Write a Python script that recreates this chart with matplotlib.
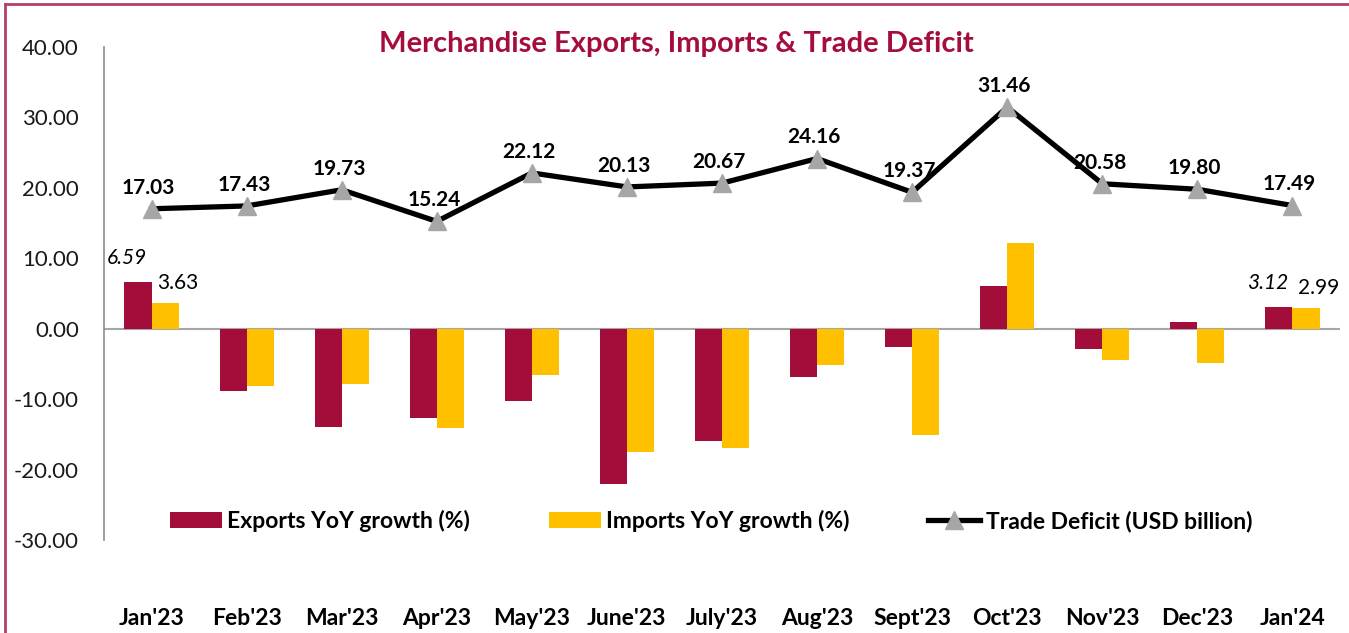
import matplotlib.pyplot as plt
from matplotlib.lines import Line2D
import numpy as np

plt.rcParams['font.family'] = ['Lato', 'DejaVu Sans']

# -----------------------------
# Data
# -----------------------------
months = ["Jan'23", "Feb'23", "Mar'23", "Apr'23", "May'23", "June'23", "July'23",
          "Aug'23", "Sept'23", "Oct'23", "Nov'23", "Dec'23", "Jan'24"]
exports_yoy = [6.59, -8.8, -13.9, -12.7, -10.3, -22.1, -15.9, -6.9, -2.6, 6.1, -2.9, 0.9, 3.12]
imports_yoy = [3.63, -8.2, -7.9, -14.1, -6.6, -17.5, -17.0, -5.2, -15.1, 12.2, -4.4, -4.9, 2.99]
trade_deficit = [17.03, 17.43, 19.73, 15.24, 22.12, 20.13, 20.67, 24.16, 19.37, 31.46, 20.58, 19.80, 17.49]

exp_color = "#A20D3A"
imp_color = "#FFC000"

# -----------------------------
# Figure
# -----------------------------
W, H = 1349, 633
fig = plt.figure(figsize=(W / 100, H / 100), dpi=100)
ax = fig.add_axes([104 / W, 1 - 540 / H, 1236 / W, 493 / H])

x = np.arange(len(months))
bw = 0.285
b1 = ax.bar(x - bw / 2, exports_yoy, bw, color=exp_color, label="Exports YoY growth (%)", zorder=2)
b2 = ax.bar(x + bw / 2, imports_yoy, bw, color=imp_color, label="Imports YoY growth (%)", zorder=2)
ln, = ax.plot(x, trade_deficit, color="black", lw=3.8, marker="^", markersize=13,
              markerfacecolor="#A6A6A6", markeredgecolor="#A6A6A6",
              label="Trade Deficit (USD billion)", zorder=3)

# line labels
for xi, v in zip(x, trade_deficit):
    ax.annotate(f"{v:.2f}", (xi, v), xytext=(-2, 8), textcoords="offset points",
                ha="center", va="bottom", fontsize=15, fontweight="bold")

# bar labels on first and last month
for i in (0, len(months) - 1):
    ax.annotate(f"{exports_yoy[i]:.2f}", (x[i] - bw / 2, exports_yoy[i]), xytext=(-8, 10),
                textcoords="offset points", ha="center", va="bottom", fontsize=15, style="italic")
    ax.annotate(f"{imports_yoy[i]:.2f}", (x[i] + bw / 2, imports_yoy[i]), xytext=(9, 7),
                textcoords="offset points", ha="center", va="bottom", fontsize=15)

ax.axhline(0, color="#A6A6A6", lw=1.5, zorder=1)
ax.set_xlim(-0.5, len(months) - 0.5)
ax.set_ylim(-30, 40)
ax.set_yticks(np.arange(-30, 41, 10))
ax.set_yticklabels([f"{t:.2f}" for t in np.arange(-30, 41, 10)], fontsize=16, color="#1a1a1a")
ax.set_xticks(x)
ax.set_xticklabels(months, fontsize=16.5, fontweight="bold")
ax.tick_params(axis="y", length=0, pad=18)
ax.tick_params(axis="x", length=0, pad=49)

for s in ("top", "right", "bottom"):
    ax.spines[s].set_visible(False)
ax.spines["left"].set_color("#8C8C8C")
ax.spines["left"].set_linewidth(1.2)

leg = ax.legend(handles=[b1, b2, ln], loc="center left", bbox_to_anchor=(0.044, 0.0385),
                ncol=3, frameon=False, prop={"size": 16.5, "weight": "bold"}, borderpad=0,
                handlelength=2.27, handleheight=0.7, handletextpad=0.22, columnspacing=3.45)

# title
fig.text(676 / W, 1 - 44 / H, "Merchandise Exports, Imports & Trade Deficit",
         ha="center", va="center", fontsize=21, fontweight="bold", color="#A50E3C")

# border (top and left only, rest cropped)
fig.add_artist(Line2D([5 / W, 5 / W], [0, 1 - 4 / H], color="#B4406A", lw=2))
fig.add_artist(Line2D([5 / W, 1], [1 - 4 / H, 1 - 4 / H], color="#B4406A", lw=2))

plt.savefig("out.png", dpi=100)
